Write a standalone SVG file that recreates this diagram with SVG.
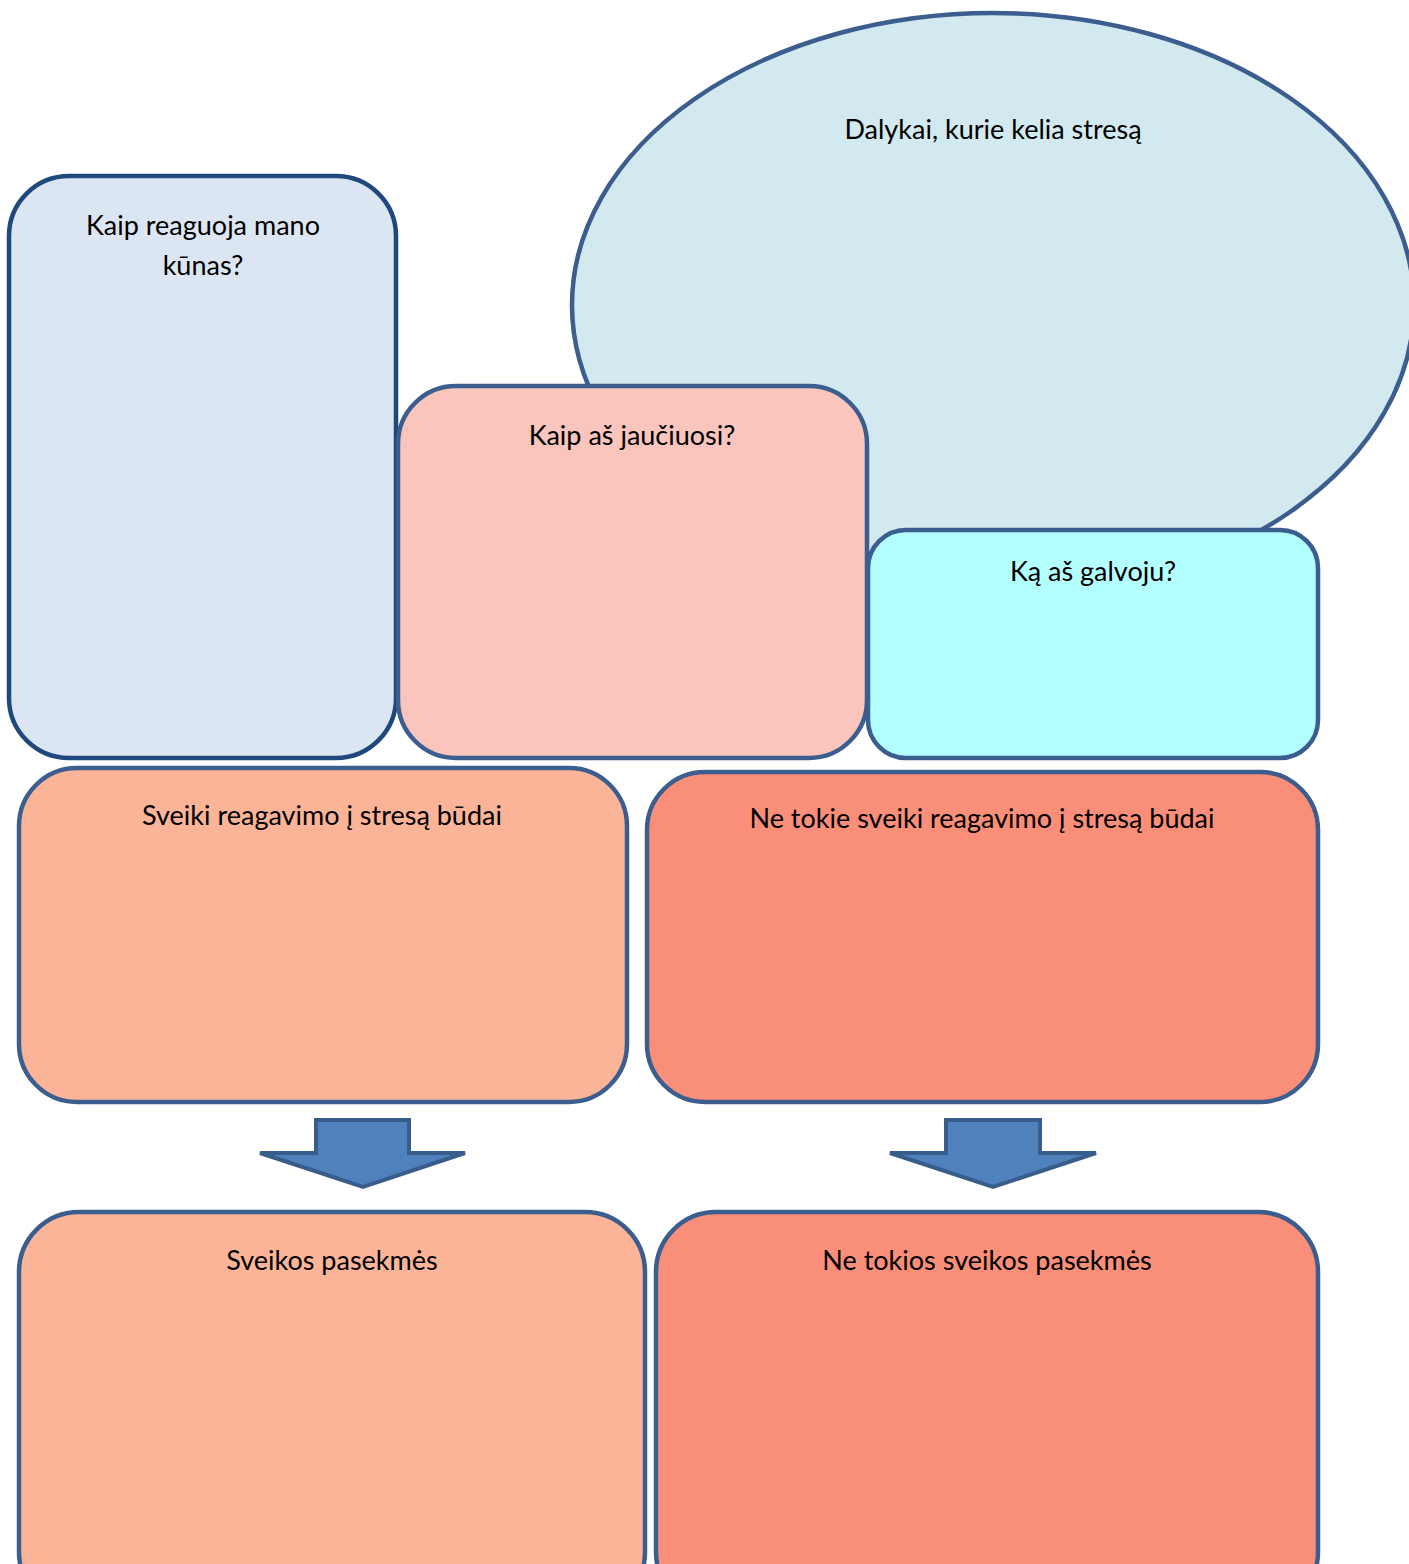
<svg xmlns="http://www.w3.org/2000/svg" width="1409" height="1564" viewBox="0 0 1409 1564">
<style>
.b{stroke:#3c5e8e;stroke-width:4.5}
.t{font-family:Lato,"Open Sans",sans-serif;font-size:27px;fill:#000;text-anchor:middle}
.ar{fill:#4f81bd;stroke:#385d8a;stroke-width:4;stroke-linejoin:miter}
</style>
<rect width="1409" height="1564" fill="#fff"/>
<g id="stressors">
<ellipse cx="993" cy="305" rx="421" ry="292" fill="#d2e9ef" class="b"/>
<text class="t" x="993" y="139">Dalykai, kurie kelia stresą</text>
</g>
<g id="body">
<rect x="9" y="176" width="387" height="582" rx="60" fill="#dce6f2" stroke="#1f497d" stroke-width="4.5"/>
<text class="t" x="203" y="235">Kaip reaguoja mano</text>
<text class="t" x="203" y="275">kūnas?</text>
</g>
<g id="feel">
<rect x="398" y="386" width="469" height="372" rx="58" fill="#f9c5bd" class="b"/>
<text class="t" x="632" y="445">Kaip aš jaučiuosi?</text>
</g>
<g id="think">
<rect x="868" y="530" width="450" height="228" rx="38" fill="#b3ffff" class="b"/>
<text class="t" x="1093" y="581">Ką aš galvoju?</text>
</g>
<g id="healthy">
<rect x="19" y="768" width="608" height="334" rx="58" fill="#fcb498" class="b"/>
<text class="t" x="322" y="825">Sveiki reagavimo į stresą būdai</text>
</g>
<g id="unhealthy">
<rect x="647" y="772" width="671" height="330" rx="58" fill="#f98e79" class="b"/>
<text class="t" x="982" y="828">Ne tokie sveiki reagavimo į stresą būdai</text>
</g>
<g id="connectors">
<polygon class="ar" points="316,1120 409,1120 409,1153 465,1153 363,1187 260,1153 316,1153"/>
<polygon class="ar" points="946,1120 1040,1120 1040,1153 1096,1153 993,1187 890,1153 946,1153"/>
</g>
<g id="healthy-outcomes">
<rect x="19" y="1212" width="626" height="400" rx="60" fill="#fcb498" class="b"/>
<text class="t" x="332" y="1270">Sveikos pasekmės</text>
</g>
<g id="unhealthy-outcomes">
<rect x="656" y="1212" width="662" height="400" rx="60" fill="#f98e79" class="b"/>
<text class="t" x="987" y="1270">Ne tokios sveikos pasekmės</text>
</g>
</svg>
